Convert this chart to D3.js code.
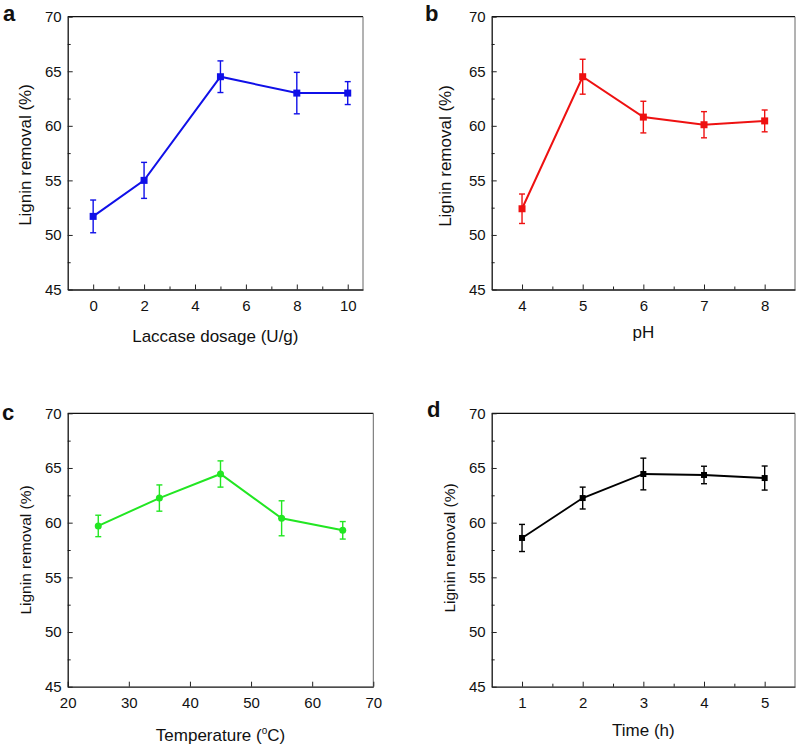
<!DOCTYPE html>
<html>
<head>
<meta charset="utf-8">
<script src="https://cdn.jsdelivr.net/npm/d3@7"></script>
<style>
  html, body { margin: 0; padding: 0; background: #fff; }
  svg { display: block; font-family: "Liberation Sans", Arial, Helvetica, sans-serif; }
</style>
</head>
<body>
<svg id="chart" width="797" height="748"></svg>
<script>
// ---------- data ----------
const laccaseDosage = [0, 2, 5, 8, 10];
const laccaseRemoval = [51.7, 55.0, 64.5, 63.0, 63.0];
const laccaseErr = [1.5, 1.65, 1.45, 1.9, 1.05];

const pHValues = [4, 5, 6, 7, 8];
const pHRemoval = [52.4, 64.5, 60.8, 60.1, 60.45];
const pHErr = [1.35, 1.6, 1.45, 1.2, 1.0];

const temperatures = [25, 35, 45, 55, 65];
const tempRemoval = [59.7, 62.25, 64.45, 60.4, 59.3];
const tempErr = [0.98, 1.2, 1.2, 1.6, 0.8];

const times = [1, 2, 3, 4, 5];
const timeRemoval = [58.6, 62.25, 64.45, 64.36, 64.08];
const timeErr = [1.24, 1.0, 1.45, 0.8, 1.1];

const yTicks = [45, 50, 55, 60, 65, 70];
const yMinorTicks = [47.5, 52.5, 57.5, 62.5, 67.5];

const panels = [
  { letter: "a", xs: laccaseDosage, ys: laccaseRemoval, es: laccaseErr,
    xDomain: [-1, 10.6], xTicks: [0, 2, 4, 6, 8, 10], xMinor: [1, 3, 5, 7, 9],
    xTitle: "Laccase dosage (U/g)", color: "#1010e8", marker: "square", msize: 7,
    box: { l: 67.7, t: 16.7, r: 363, b: 289.5 }, xTitleY: 342, yTitleX: 31, yTitleY: 155,
    letterX: 3, letterY: 21 },
  { letter: "b", xs: pHValues, ys: pHRemoval, es: pHErr,
    xDomain: [3.5, 8.5], xTicks: [4, 5, 6, 7, 8], xMinor: [4.5, 5.5, 6.5, 7.5],
    xTitle: "pH", color: "#ee1111", marker: "square", msize: 7,
    box: { l: 491.7, t: 16.7, r: 795, b: 289.5 }, xTitleY: 338, yTitleX: 451, yTitleY: 156,
    letterX: 425, letterY: 21 },
  { letter: "c", xs: temperatures, ys: tempRemoval, es: tempErr,
    xDomain: [20, 70], xTicks: [20, 30, 40, 50, 60, 70], xMinor: [],
    xTitle: "Temperature", color: "#22e622", marker: "circle", msize: 7,
    box: { l: 67.7, t: 413.3, r: 373.3, b: 686.7 }, xTitleY: 741, yTitleX: 31, yTitleY: 550,
    letterX: 2, letterY: 420 },
  { letter: "d", xs: times, ys: timeRemoval, es: timeErr,
    xDomain: [0.5, 5.5], xTicks: [1, 2, 3, 4, 5], xMinor: [1.5, 2.5, 3.5, 4.5],
    xTitle: "Time (h)", color: "#000000", marker: "square", msize: 6,
    box: { l: 491.7, t: 413.3, r: 795, b: 686.7 }, xTitleY: 736, yTitleX: 455, yTitleY: 548,
    letterX: 427, letterY: 417 }
];

const svg = d3.select("#chart");

panels.forEach(p => {
  const { l, t, r, b } = p.box;
  const x = d3.scaleLinear().domain(p.xDomain).range([l, r]);
  const y = d3.scaleLinear().domain([45, 70]).range([b, t]);
  const g = svg.append("g");

  // frame: top and right
  g.append("line").attr("x1", l).attr("x2", r).attr("y1", t).attr("y2", t)
    .attr("stroke", "#111").attr("stroke-width", 1.3);
  g.append("line").attr("x1", r).attr("x2", r).attr("y1", t).attr("y2", b)
    .attr("stroke", "#666").attr("stroke-width", 1);

  // minor ticks
  g.append("g").attr("transform", `translate(0,${b})`)
    .call(d3.axisBottom(x).tickValues(p.xMinor).tickSize(-3).tickSizeOuter(0).tickFormat(""))
    .call(s => s.select(".domain").remove());
  g.append("g").attr("transform", `translate(${l},0)`)
    .call(d3.axisLeft(y).tickValues(yMinorTicks).tickSize(-3).tickSizeOuter(0).tickFormat(""))
    .call(s => s.select(".domain").remove());

  // major axes
  const xa = g.append("g").attr("transform", `translate(0,${b})`)
    .call(d3.axisBottom(x).tickValues(p.xTicks).tickSize(-5).tickSizeOuter(0).tickPadding(11).tickFormat(d3.format("d")));
  const ya = g.append("g").attr("transform", `translate(${l},0)`)
    .call(d3.axisLeft(y).tickValues(yTicks).tickSize(-5).tickSizeOuter(0).tickPadding(6).tickFormat(d3.format("d")));
  [xa, ya].forEach(a => {
    a.select(".domain").attr("stroke", "#111").attr("stroke-width", 1.3);
    a.selectAll("text").attr("font-size", 15).attr("fill", "#111")
      .attr("font-family", "'Liberation Sans', Arial, sans-serif");
  });
  g.selectAll(".tick line").attr("stroke", "#222");

  // axis titles
  const xt = g.append("text").attr("x", (l + r) / 2).attr("y", p.xTitleY)
    .attr("text-anchor", "middle").attr("font-size", 17).attr("fill", "#111");
  if (p.letter === "c") {
    xt.append("tspan").text("Temperature (");
    xt.append("tspan").text("o").attr("font-size", 10).attr("dy", -7);
    xt.append("tspan").text("C)").attr("dy", 7);
  } else {
    xt.text(p.xTitle);
  }
  g.append("text")
    .attr("transform", `translate(${p.yTitleX},${p.yTitleY}) rotate(-90)`)
    .attr("text-anchor", "middle").attr("font-size", p.letter === "a" || p.letter === "b" ? 17 : 15.5)
    .attr("fill", "#111").text("Lignin removal (%)");

  // panel letter
  g.append("text").attr("x", p.letterX).attr("y", p.letterY)
    .attr("font-size", 22).attr("font-weight", "bold").attr("fill", "#111").text(p.letter);

  // data
  const pts = p.xs.map((v, i) => ({ x: v, y: p.ys[i], e: p.es[i] }));

  // line
  g.append("path").datum(pts)
    .attr("d", d3.line().x(d => x(d.x)).y(d => y(d.y)))
    .attr("fill", "none").attr("stroke", p.color).attr("stroke-width", p.letter === "d" ? 1.8 : 2);

  // error bars
  const eb = g.append("g").attr("stroke", p.color).attr("stroke-width", 1.4);
  pts.forEach(d => {
    const cx = x(d.x), y1 = y(d.y + d.e), y2 = y(d.y - d.e);
    eb.append("line").attr("x1", cx).attr("x2", cx).attr("y1", y1).attr("y2", y2);
    eb.append("line").attr("x1", cx - 3).attr("x2", cx + 3).attr("y1", y1).attr("y2", y1);
    eb.append("line").attr("x1", cx - 3).attr("x2", cx + 3).attr("y1", y2).attr("y2", y2);
  });

  // markers
  if (p.marker === "square") {
    g.selectAll("rect.pt").data(pts).enter().append("rect").attr("class", "pt")
      .attr("x", d => x(d.x) - p.msize / 2).attr("y", d => y(d.y) - p.msize / 2)
      .attr("width", p.msize).attr("height", p.msize).attr("fill", p.color);
  } else {
    g.selectAll("circle.pt").data(pts).enter().append("circle").attr("class", "pt")
      .attr("cx", d => x(d.x)).attr("cy", d => y(d.y)).attr("r", p.msize / 2)
      .attr("fill", p.color);
  }
});
</script>
</body>
</html>
